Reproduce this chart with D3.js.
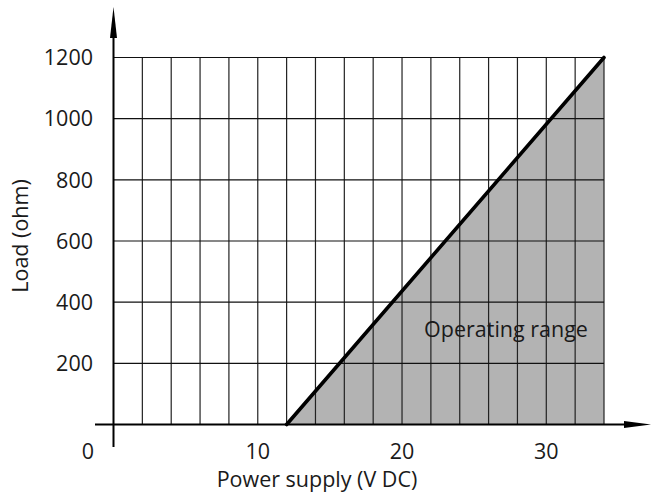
<!DOCTYPE html>
<html>
<head>
<meta charset="utf-8">
<script src="https://cdn.jsdelivr.net/npm/d3@7"></script>
<style>
  body { margin: 0; background: #fff; }
  text { font-family: "Open Sans", "Noto Sans", sans-serif; fill: #1a1a1a; }
</style>
</head>
<body>
<script>
// chart values
var boundaryVolts = [12, 34];      // V DC
var boundaryLoads = [0, 1200];     // ohm
var xTickValues = [10, 20, 30];
var yTickValues = [200, 400, 600, 800, 1000, 1200];
var xGridStep = 2;
var areaLabel = "Operating range";

var w = 653, h = 498;
var fs = 21.5;

var svg = d3.select("body").append("svg")
    .attr("width", w)
    .attr("height", h);

var x = d3.scaleLinear().domain([0, 34]).range([113.5, 604]);
var y = d3.scaleLinear().domain([0, 1200]).range([424.5, 57.5]);

// shaded operating area (below the boundary line)
var area = [
  [boundaryVolts[0], boundaryLoads[0]],
  [boundaryVolts[1], boundaryLoads[1]],
  [boundaryVolts[1], 0]
];
svg.append("path")
    .attr("d", d3.line().x(function(d) { return x(d[0]); }).y(function(d) { return y(d[1]); })(area) + "Z")
    .attr("fill", "#b3b3b3");

// grid
var gridX = d3.range(xGridStep, 34 + 0.001, xGridStep);
svg.append("g").selectAll("line")
  .data(gridX)
  .enter().append("line")
    .attr("x1", function(d) { return x(d); })
    .attr("x2", function(d) { return x(d); })
    .attr("y1", y(0))
    .attr("y2", y(1200))
    .attr("stroke", "#222")
    .attr("stroke-width", 1.2);

svg.append("g").selectAll("line")
  .data(yTickValues)
  .enter().append("line")
    .attr("x1", x(0))
    .attr("x2", x(34))
    .attr("y1", function(d) { return y(d); })
    .attr("y2", function(d) { return y(d); })
    .attr("stroke", "#111")
    .attr("stroke-width", 1.2);

// boundary line
svg.append("line")
    .attr("x1", x(boundaryVolts[0]))
    .attr("y1", y(boundaryLoads[0]))
    .attr("x2", x(boundaryVolts[1]))
    .attr("y2", y(boundaryLoads[1]))
    .attr("stroke", "#000")
    .attr("stroke-width", 3.6)
    .attr("stroke-linecap", "round");

// axes with arrows
svg.append("line")
    .attr("x1", 95).attr("x2", 630)
    .attr("y1", y(0)).attr("y2", y(0))
    .attr("stroke", "#000").attr("stroke-width", 2);
svg.append("path")
    .attr("d", "M624," + (y(0) - 3.5) + "L651," + y(0) + "L624," + (y(0) + 3.5) + "Z")
    .attr("fill", "#000");

svg.append("line")
    .attr("x1", x(0)).attr("x2", x(0))
    .attr("y1", 447).attr("y2", 30)
    .attr("stroke", "#000").attr("stroke-width", 2);
svg.append("path")
    .attr("d", "M" + (x(0) - 3.5) + ",38L" + x(0) + ",7L" + (x(0) + 3.5) + ",38Z")
    .attr("fill", "#000");

// tick labels
svg.append("g").selectAll("text")
  .data(xTickValues)
  .enter().append("text")
    .attr("x", function(d) { return x(d); })
    .attr("y", 451)
    .attr("dy", "0.36em")
    .attr("text-anchor", "middle")
    .attr("font-size", fs)
    .text(function(d) { return d; });

svg.append("text")
    .attr("x", 88).attr("y", 451).attr("dy", "0.36em")
    .attr("text-anchor", "middle")
    .attr("font-size", fs)
    .text("0");

svg.append("g").selectAll("text")
  .data(yTickValues)
  .enter().append("text")
    .attr("x", 93)
    .attr("y", function(d) { return y(d); })
    .attr("dy", "0.36em")
    .attr("text-anchor", "end")
    .attr("font-size", fs)
    .text(function(d) { return d; });

// titles
svg.append("text")
    .attr("x", 317).attr("y", 479).attr("dy", "0.36em")
    .attr("text-anchor", "middle")
    .attr("font-size", fs)
    .text("Power supply (V DC)");

svg.append("text")
    .attr("transform", "translate(20,236) rotate(-90)")
    .attr("dy", "0.36em")
    .attr("text-anchor", "middle")
    .attr("font-size", fs)
    .text("Load (ohm)");

svg.append("text")
    .attr("x", 506).attr("y", 329).attr("dy", "0.36em")
    .attr("text-anchor", "middle")
    .attr("font-size", fs)
    .text(areaLabel);
</script>
</body>
</html>
